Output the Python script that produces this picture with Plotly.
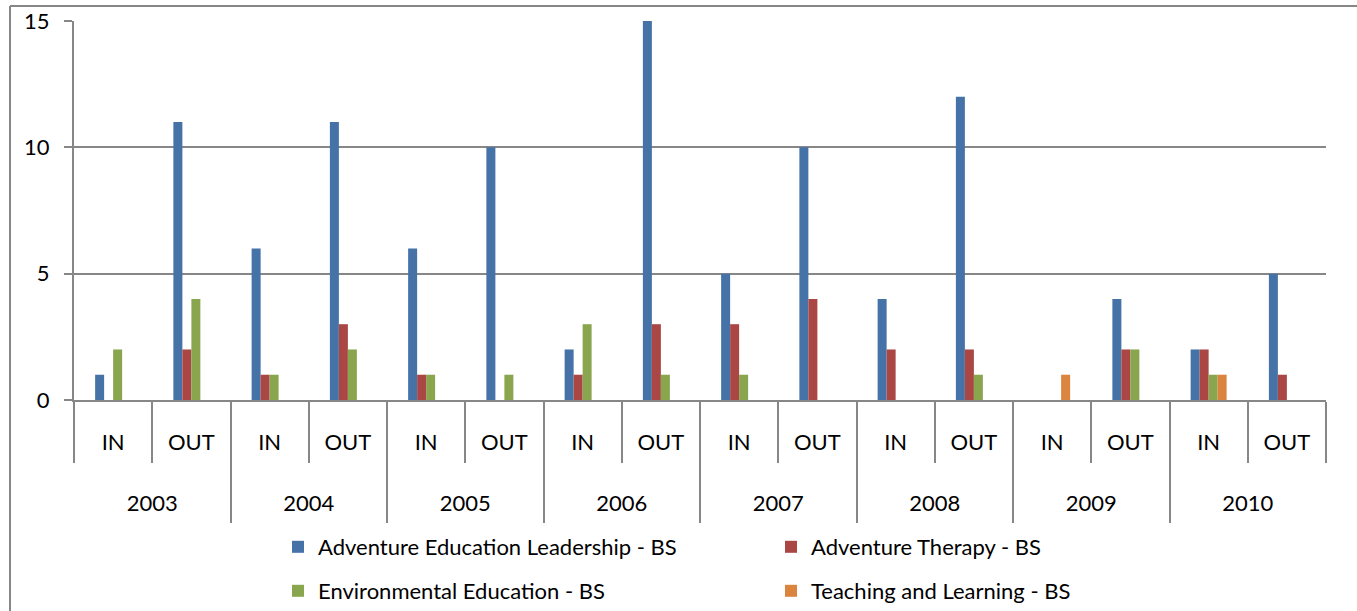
import plotly.graph_objects as go

years = ["2003", "2004", "2005", "2006", "2007", "2008", "2009", "2010"]
sides = ["IN", "OUT"]

series_names = [
    "Adventure Education Leadership - BS",
    "Adventure Therapy - BS",
    "Environmental Education - BS",
    "Teaching and Learning - BS",
]
# values per (year, IN/OUT) in order 2003 IN, 2003 OUT, 2004 IN, ...
adventure_leadership = [1, 11, 6, 11, 6, 10, 2, 15, 5, 10, 4, 12, 0, 4, 2, 5]
adventure_therapy = [0, 2, 1, 3, 1, 0, 1, 3, 3, 4, 2, 2, 0, 2, 2, 1]
environmental_ed = [2, 4, 1, 2, 1, 1, 3, 1, 1, 0, 0, 1, 0, 2, 1, 0]
teaching_learning = [0, 0, 0, 0, 0, 0, 0, 0, 0, 0, 0, 0, 1, 0, 1, 0]

colors = ["#4572A7", "#AA4643", "#89A54E", "#DB843D"]

# one category per year/side pair, labelled only with the side
x_keys = [y + " " + s for y in years for s in sides]
x_inner = [s for y in years for s in sides]

font = "Lato, 'Open Sans', sans-serif"
grey = "#878787"
W, H = 1357, 611
L, R, T = 74, 31, 21
paper_w = W - L - R
paper_h = H - T
plot_bottom = 400

fig = go.Figure()
all_vals = [adventure_leadership, adventure_therapy, environmental_ed, teaching_learning]
legends = ["legend", "legend", "legend2", "legend2"]
for name, vals, col, lg in zip(series_names, all_vals, colors, legends):
    fig.add_trace(go.Bar(
        x=x_keys, y=vals, name=name,
        marker=dict(color=col, line=dict(width=0)),
        legend=lg,
    ))

# invisible trace to set up the year axis
fig.add_trace(go.Scatter(
    x=years, y=[0] * len(years), xaxis="x2", mode="markers",
    marker=dict(opacity=0), showlegend=False, hoverinfo="skip",
))

legend_common = dict(
    orientation="h", xref="paper", yref="container",
    xanchor="left", yanchor="middle",
    entrywidth=448, entrywidthmode="pixels",
    font=dict(family=font, size=22, color="#000000"),
    bgcolor="rgba(0,0,0,0)", itemwidth=30,
)

fig.update_layout(
    width=W, height=H,
    margin=dict(l=L, r=R, t=T, b=0, autoexpand=False),
    paper_bgcolor="white", plot_bgcolor="white",
    barmode="group", bargap=0.54, bargroupgap=0,
    font=dict(family=font, size=22, color="#000000"),
    showlegend=True,
    legend=dict(legend_common, x=(278 - L) / paper_w, y=1 - 547 / H),
    legend2=dict(legend_common, x=(278 - L) / paper_w, y=1 - 591 / H),
    xaxis=dict(
        type="category", categoryarray=x_keys, categoryorder="array",
        tickvals=x_keys, ticktext=x_inner,
        showgrid=False,
        showline=True, linecolor=grey, linewidth=2,
        ticks="outside", tickson="boundaries", ticklen=61,
        tickcolor=grey, tickwidth=2,
        ticklabelstandoff=22,
        tickfont=dict(family=font, size=22, color="#000000"),
    ),
    xaxis2=dict(
        type="category", categoryarray=years, categoryorder="array",
        range=[-0.5, len(years) - 0.5],
        overlaying="x", anchor="free", position=(H - 523) / paper_h,
        showgrid=False, showline=False, zeroline=False,
        ticks="inside", tickson="boundaries", ticklen=123,
        tickcolor=grey, tickwidth=2,
        ticklabelposition="inside", ticklabelstandoff=-114,
        tickfont=dict(family=font, size=22, color="#000000"),
    ),
    yaxis=dict(
        domain=[(H - plot_bottom) / paper_h, 1],
        range=[0, 15], tickvals=[0, 5, 10, 15],
        showgrid=True, gridcolor=grey, gridwidth=2,
        showline=True, linecolor=grey, linewidth=2,
        ticks="outside", ticklen=8, tickcolor=grey, tickwidth=2,
        ticklabelstandoff=10,
        zeroline=False,
        tickfont=dict(family=font, size=22, color="#000000"),
    ),
    shapes=[
        dict(type="line", xref="paper", yref="paper",
             x0=(10 - L) / paper_w, x1=(10 - L) / paper_w,
             y0=1 + 15 / paper_h, y1=-0.05,
             line=dict(color=grey, width=2)),
        dict(type="line", xref="paper", yref="paper",
             x0=(10 - L) / paper_w, x1=1.05,
             y0=1 + 15 / paper_h, y1=1 + 15 / paper_h,
             line=dict(color=grey, width=2)),
    ],
)

# drop the page's default body margin so the figure sits at the top-left corner
fig.write_html(
    "out.html",
    config={"displayModeBar": False},
    post_script="document.body.style.margin = '0';",
)
